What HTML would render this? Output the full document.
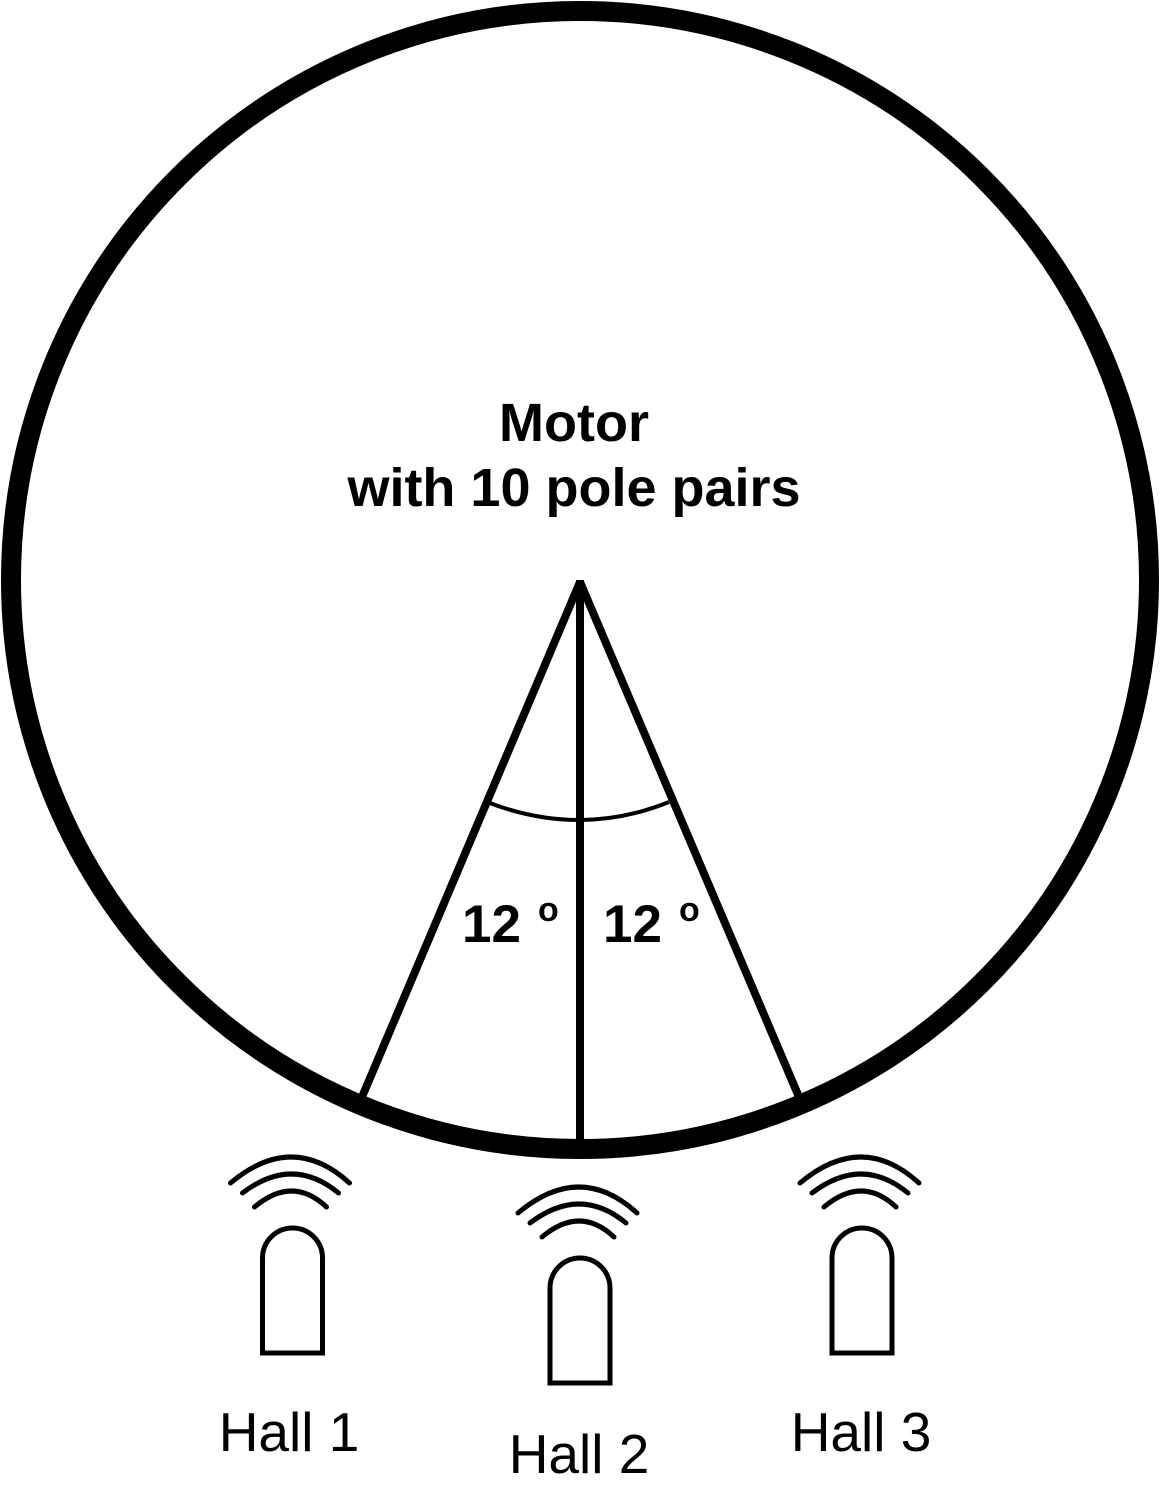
<!DOCTYPE html>
<html><head><style>html,body{margin:0;padding:0;background:#fff}svg{display:block}</style></head>
<body>
<svg width="1161" height="1506" viewBox="0 0 1161 1506" xmlns="http://www.w3.org/2000/svg">
<defs>
<g id="hall" fill="none" stroke="#000" stroke-linecap="round">
  <path d="M-62,1183 Q0,1131 57,1183" stroke-width="5"/>
  <path d="M-50,1193 Q0,1155 46,1193" stroke-width="5"/>
  <path d="M-38,1207 Q0,1175 34,1207" stroke-width="5"/>
  <path d="M-30,1353 L-30,1258 A30,30 0 0 1 30,1258 L30,1353 Z" stroke-width="5" stroke-linecap="butt"/>
</g>
</defs>
<circle cx="580" cy="580" r="569" fill="none" stroke="#000" stroke-width="20"/>
<g stroke="#000" stroke-width="8" fill="none">
  <line x1="580" y1="580" x2="580" y2="1142"/>
  <line x1="580" y1="582" x2="362" y2="1097"/>
  <line x1="580" y1="582" x2="799" y2="1097"/>
</g>
<path d="M487,802 Q580,838 669,802" fill="none" stroke="#000" stroke-width="4"/>
<g font-family="Liberation Sans, sans-serif" font-weight="bold" font-size="54" text-anchor="middle">
  <text x="574" y="441">Motor</text>
  <text x="574" y="506">with 10 pole pairs</text>
</g>
<g font-family="Liberation Sans, sans-serif" font-weight="bold">
  <text x="462" y="942" font-size="53">12</text>
  <text x="538" y="921" font-size="34">o</text>
  <text x="603" y="942" font-size="53">12</text>
  <text x="679" y="921" font-size="34">o</text>
</g>
<use href="#hall" transform="translate(292.5,0)"/>
<use href="#hall" transform="translate(580,30)"/>
<use href="#hall" transform="translate(862,0)"/>
<g font-family="Liberation Sans, sans-serif" font-size="55" text-anchor="middle">
  <text x="289" y="1451">Hall 1</text>
  <text x="579" y="1473">Hall 2</text>
  <text x="861" y="1451">Hall 3</text>
</g>
</svg>
</body></html>
